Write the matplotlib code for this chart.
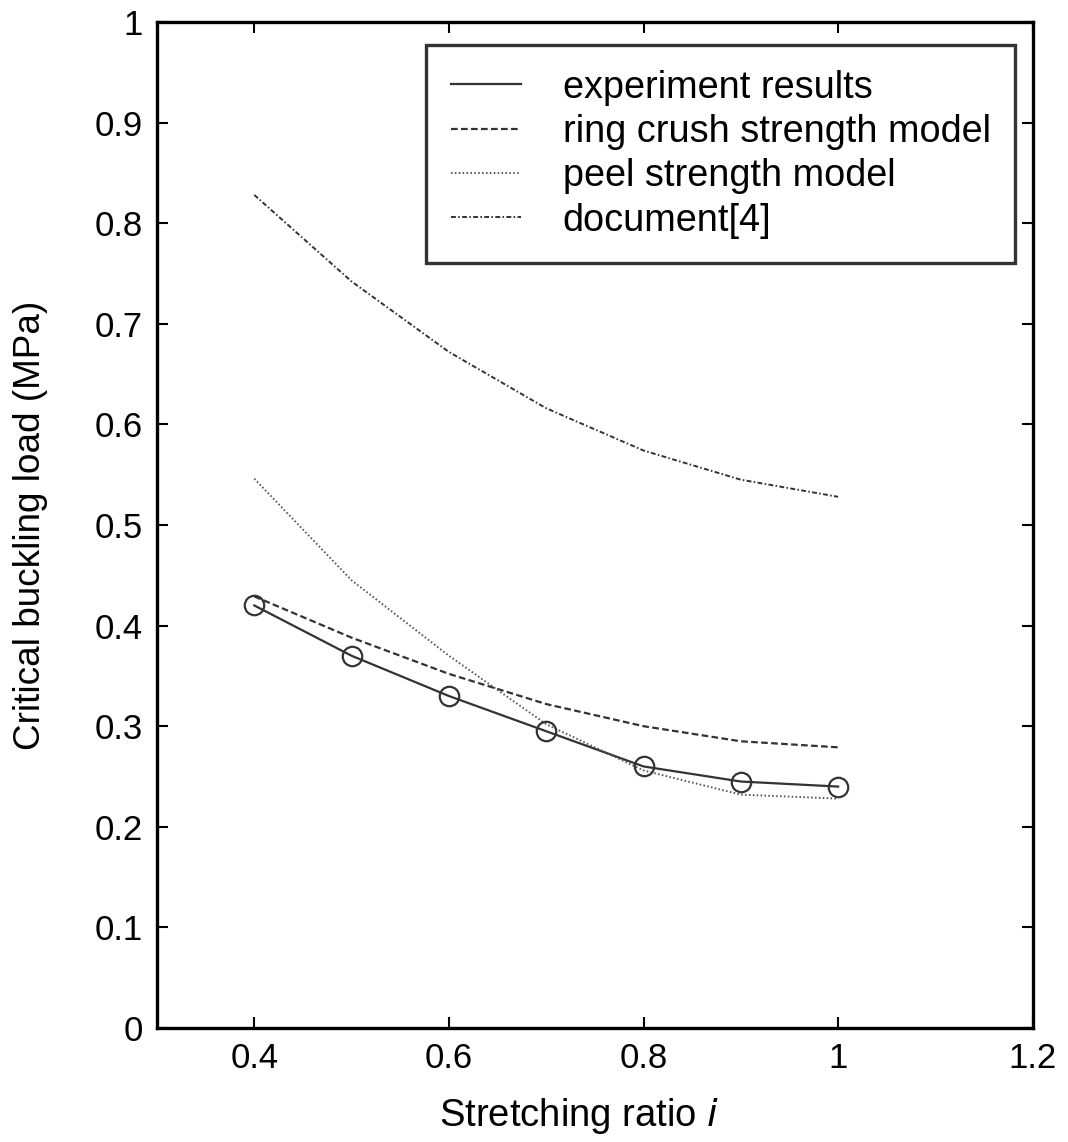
import matplotlib
matplotlib.use("Agg")
import matplotlib.pyplot as plt

# values
ratio = [0.4, 0.5, 0.6, 0.7, 0.8, 0.9, 1.0]
experiment = [0.42, 0.37, 0.33, 0.295, 0.26, 0.245, 0.24]
ring_crush = [0.429, 0.388, 0.352, 0.322, 0.300, 0.285, 0.279]
peel = [0.546, 0.445, 0.370, 0.302, 0.256, 0.232, 0.228]
document4 = [0.828, 0.742, 0.672, 0.616, 0.574, 0.545, 0.528]

legend_labels = ["experiment results", "ring crush strength model",
                 "peel strength model", "document[4]"]
xticks = [0.4, 0.6, 0.8, 1.0, 1.2]
yticks = [0.0, 0.1, 0.2, 0.3, 0.4, 0.5, 0.6, 0.7, 0.8, 0.9, 1.0]

plt.rcParams["font.family"] = ["Liberation Sans", "DejaVu Sans"]
plt.rcParams["font.size"] = 25

fig = plt.figure(figsize=(10.68, 11.42), dpi=100)
ax = fig.add_axes([0.147, 0.0998, 0.82, 0.881])

c = "#333333"
ax.plot(ratio, experiment, "-", color=c, lw=1.6, label=legend_labels[0])
ax.plot(ratio, ring_crush, "--", color=c, lw=1.6, dashes=(3, 1.5), label=legend_labels[1])
ax.plot(ratio, peel, ":", color="#555555", lw=1.4, dashes=(0.8, 1.2), label=legend_labels[2])
ax.plot(ratio, document4, "-.", color=c, lw=1.4, dashes=(2.5, 1.2, 0.8, 1.2), label=legend_labels[3])
ax.plot(ratio, experiment, "o", ms=14, mfc="none", mec=c, mew=1.6)

ax.set_xlim(0.3, 1.2)
ax.set_ylim(0, 1)
ax.set_xticks(xticks)
ax.set_yticks(yticks)
ax.xaxis.set_major_formatter(matplotlib.ticker.FormatStrFormatter("%g"))
ax.yaxis.set_major_formatter(matplotlib.ticker.FormatStrFormatter("%g"))
ax.tick_params(direction="in", length=8, width=1.5, top=True, right=True, pad=10)
for s in ax.spines.values():
    s.set_linewidth(2.4)

ax.set_xlabel("Stretching ratio $\\it{i}$", fontsize=27.5, labelpad=20)
ax.xaxis.set_label_coords(0.482, -0.068)
ax.set_ylabel("Critical buckling load (MPa)", fontsize=26.6, labelpad=34)

leg = ax.legend(loc="upper right", bbox_to_anchor=(0.98, 0.977), borderaxespad=0,
                fancybox=False, edgecolor="black", handlelength=1.85, handletextpad=1.1,
                borderpad=0.65, labelspacing=0.22, fontsize=27.3)
leg.get_frame().set_linewidth(2.4)

fig.savefig("out.png", dpi=100)
